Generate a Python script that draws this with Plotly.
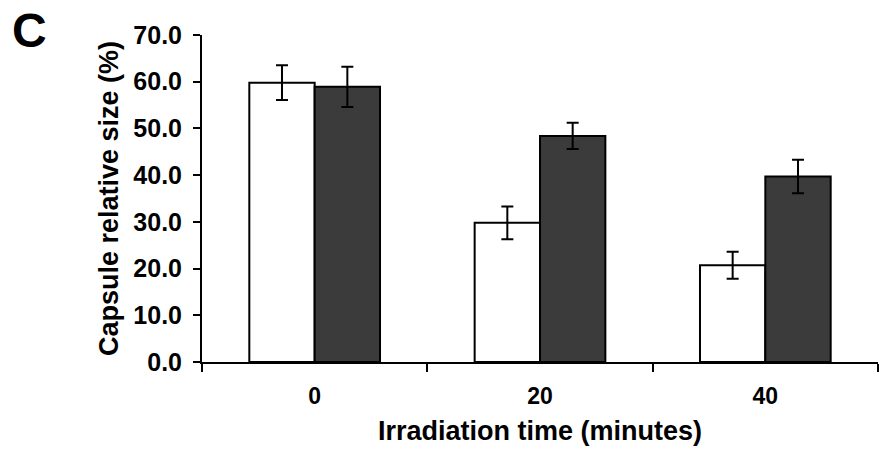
import plotly.graph_objects as go

categories = ["0", "20", "40"]
white_vals = [59.8, 29.8, 20.7]
white_err = [3.7, 3.5, 2.9]
dark_vals = [58.9, 48.4, 39.7]
dark_err = [4.3, 2.8, 3.6]
y_ticks = [0, 10, 20, 30, 40, 50, 60, 70]

FONT = "Liberation Sans, Arial, Helvetica, sans-serif"

fig = go.Figure()
fig.add_trace(go.Bar(
    x=categories, y=white_vals, name="control",
    marker=dict(color="white", line=dict(color="black", width=2)),
    error_y=dict(type="data", array=white_err, color="black", thickness=2, width=6),
))
fig.add_trace(go.Bar(
    x=categories, y=dark_vals, name="treated",
    marker=dict(color="#3b3b3b", line=dict(color="black", width=2)),
    error_y=dict(type="data", array=dark_err, color="black", thickness=2, width=6),
))

fig.update_layout(
    width=879, height=449,
    margin=dict(l=202, r=1, t=35, b=87),
    paper_bgcolor="white", plot_bgcolor="white",
    barmode="group", bargap=0.42, bargroupgap=0,
    showlegend=False,
    font=dict(family=FONT, color="black", weight="bold"),
)
fig.update_xaxes(
    type="category", tickson="boundaries",
    showline=True, linecolor="black", linewidth=2,
    ticks="outside", ticklen=8, tickwidth=2, tickcolor="black",
    showgrid=False, zeroline=False, ticklabelstandoff=12,
    tickfont=dict(size=23, family=FONT, weight="bold"),
    title=dict(text="Irradiation time (minutes)", font=dict(size=27, family=FONT, weight="bold"), standoff=14),
)
fig.update_yaxes(
    range=[0, 70], tickvals=y_ticks, tickformat=".1f",
    showline=True, linecolor="black", linewidth=2,
    ticks="outside", ticklen=7, tickwidth=2, tickcolor="black",
    showgrid=False, zeroline=False, ticklabelstandoff=6,
    tickfont=dict(size=25, family=FONT, weight="bold"),
    title=dict(text="Capsule relative size (%)", font=dict(size=27, family=FONT, weight="bold"), standoff=7),
)
fig.add_annotation(
    text="C", xref="paper", yref="paper", x=-0.284, y=1.0138,
    xanchor="left", yanchor="middle", showarrow=False,
    font=dict(size=48, family=FONT, weight="bold", color="black"),
)
fig.write_html(
    "out.html",
    config={"displayModeBar": False},
    post_script="document.body.style.margin='0';document.body.style.overflow='hidden';",
)
